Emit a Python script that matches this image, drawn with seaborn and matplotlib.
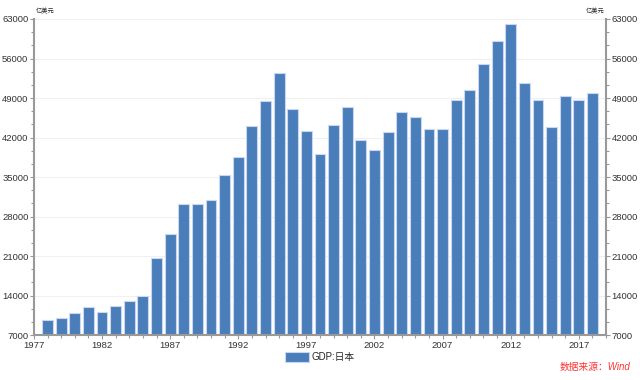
import matplotlib
matplotlib.use('Agg')
import matplotlib.pyplot as plt
import seaborn as sns
import pandas as pd
from matplotlib.ticker import MultipleLocator

years = list(range(1978, 2019))
gdp = [9700, 10000, 10900, 12000, 11100, 12100, 13000, 13900, 20600, 24900,
       30200, 30200, 31000, 35400, 38500, 44100, 48500, 53400, 47000, 43200,
       39100, 44300, 47400, 41600, 39800, 43000, 46600, 45700, 43600, 43600,
       48700, 50400, 55000, 59100, 62100, 51600, 48600, 43900, 49400, 48700,
       49900]
yticks = [7000, 14000, 21000, 28000, 35000, 42000, 49000, 56000, 63000]
xticks = [1977, 1982, 1987, 1992, 1997, 2002, 2007, 2012, 2017]

df = pd.DataFrame({'year': years, 'gdp': gdp})

sns.set_style('white')
plt.rcParams['font.family'] = ['Liberation Sans', 'Noto Sans CJK SC', 'DejaVu Sans']

fig = plt.figure(figsize=(6.4, 3.8), dpi=100)
ax = fig.add_axes([0.053, 0.118, 0.894, 0.832])

sns.barplot(data=df, x='year', y='gdp', native_scale=True, color='#4a7ebb',
            saturation=1, width=0.8, edgecolor='#c9d8ee', linewidth=0.8,
            label='GDP:日本', ax=ax)
handles, labels = ax.get_legend_handles_labels()
if ax.get_legend() is not None:
    ax.get_legend().remove()

ax.set_xlim(1977, 2019)
ax.set_ylim(7000, 63000)
ax.set_xticks(xticks)
ax.set_yticks(yticks)
ax.yaxis.set_minor_locator(MultipleLocator(7000 / 3))
ax.xaxis.set_minor_locator(MultipleLocator(1))
ax.set_xlabel('')
ax.set_ylabel('')
ax.grid(axis='y', color='#f0f0f0', linewidth=0.8)
ax.set_axisbelow(True)

for s in ['top', 'right']:
    ax.spines[s].set_visible(False)
for s in ['left', 'bottom']:
    ax.spines[s].set_color('#999999')
    ax.spines[s].set_linewidth(1.5)

ax.tick_params(axis='both', which='major', labelsize=6.8, length=3, width=0.8,
               color='#999999', labelcolor='#333333', direction='out',
               left=True, bottom=True, pad=1)
ax.tick_params(axis='both', which='minor', length=2, width=0.8,
               color='#999999', direction='out', left=True, bottom=True)

ax2 = ax.twinx()
ax2.set_ylim(7000, 63000)
ax2.set_yticks(yticks)
ax2.yaxis.set_minor_locator(MultipleLocator(7000 / 3))
for s in ['top', 'left', 'bottom']:
    ax2.spines[s].set_visible(False)
ax2.spines['right'].set_color('#999999')
ax2.spines['right'].set_linewidth(1.5)
ax2.tick_params(axis='y', which='major', labelsize=6.8, length=3, width=0.8,
                color='#999999', labelcolor='#333333', direction='out',
                right=True, pad=1)
ax2.tick_params(axis='y', which='minor', length=2, width=0.8,
                color='#999999', direction='out', right=True)

fig.text(0.056, 0.963, '亿美元', fontsize=4.5, ha='left', va='bottom')
fig.text(0.944, 0.963, '亿美元', fontsize=4.5, ha='right', va='bottom')

fig.legend(handles, labels, loc='center', bbox_to_anchor=(0.5, 0.06),
           frameon=False, fontsize=7, handlelength=2.4, handleheight=1.3,
           handletextpad=0.3)

fig.text(0.985, 0.02, '数据来源：Wind', fontsize=7, color='#ff3333',
         style='italic', ha='right', va='bottom')

fig.savefig('out.png', dpi=100)
